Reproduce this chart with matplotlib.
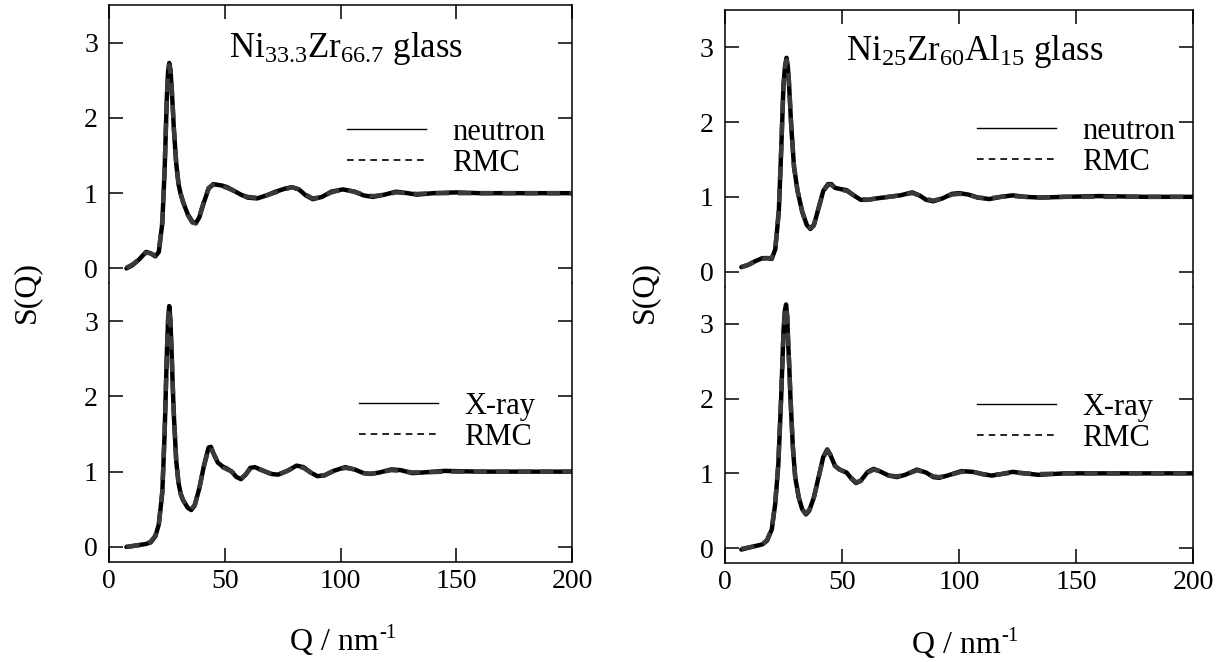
import matplotlib
matplotlib.use("Agg")
import matplotlib.pyplot as plt
from matplotlib.lines import Line2D

plt.rcParams["font.family"] = ["Liberation Serif", "DejaVu Serif"]
plt.rcParams["mathtext.fontset"] = "custom"
plt.rcParams["mathtext.rm"] = "Liberation Serif"
plt.rcParams["mathtext.it"] = "Liberation Serif:italic"

# Ni33.3Zr66.7, neutron
q_a_n = [7.5, 10, 13, 16, 18, 20, 21.5, 23, 24, 24.5, 25, 25.5, 26, 26.5, 27, 27.5, 28, 29, 30, 31,
         32, 34, 36, 37.5, 39, 41, 43, 45, 47, 49, 51, 54, 57, 60, 64, 68, 72, 76, 79, 82,
         85, 88, 92, 96, 101, 106, 110, 114, 119, 124, 129, 133, 140, 150, 160, 170, 180, 190, 200]
s_a_n = [0.0, 0.04, 0.12, 0.22, 0.2, 0.16, 0.22, 0.6, 1.3, 1.8, 2.3, 2.62, 2.73, 2.65, 2.42, 2.15, 1.85, 1.4, 1.12, 0.98,
         0.88, 0.72, 0.62, 0.6, 0.68, 0.88, 1.06, 1.12, 1.11, 1.1, 1.08, 1.03, 0.98, 0.94, 0.93, 0.97, 1.02, 1.06, 1.08, 1.05,
         0.97, 0.92, 0.95, 1.02, 1.05, 1.02, 0.97, 0.95, 0.98, 1.02, 1.0, 0.98, 1.0, 1.01, 1.0, 1.0, 1.0, 1.0, 1.0]
r_a_n = [0.01, 0.05, 0.12, 0.21, 0.2, 0.17, 0.23, 0.62, 1.32, 1.82, 2.28, 2.6, 2.7, 2.63, 2.43, 2.16, 1.86, 1.41, 1.13, 0.99,
         0.88, 0.71, 0.61, 0.6, 0.69, 0.89, 1.07, 1.11, 1.12, 1.09, 1.07, 1.03, 0.98, 0.95, 0.94, 0.97, 1.01, 1.05, 1.08, 1.05,
         0.98, 0.93, 0.95, 1.01, 1.05, 1.02, 0.98, 0.96, 0.98, 1.01, 1.0, 0.99, 1.0, 1.0, 1.0, 1.0, 1.0, 1.0, 1.0]

# Ni33.3Zr66.7, X-ray
q_a_x = [7.5, 12, 16, 18, 20, 21.5, 23, 24, 24.5, 25, 25.5, 26, 26.5, 27, 27.5, 28, 29, 30, 31, 32,
         34, 35.5, 37, 39, 41, 43, 44, 45, 47, 49, 51, 53, 55, 57, 59, 61, 63, 66, 70, 73,
         77, 81, 84, 87, 90, 93, 97, 102, 106, 110, 113, 117, 122, 126, 131, 136, 145, 160, 175, 200]
s_a_x = [0.0, 0.02, 0.04, 0.06, 0.14, 0.3, 0.72, 1.5, 2.05, 2.6, 3.02, 3.2, 3.02, 2.6, 2.15, 1.75, 1.15, 0.85, 0.7, 0.62,
         0.52, 0.49, 0.55, 0.78, 1.08, 1.32, 1.33, 1.25, 1.12, 1.07, 1.04, 1.0, 0.93, 0.9, 0.96, 1.05, 1.06, 1.02, 0.97, 0.96,
         1.01, 1.08, 1.06, 0.99, 0.94, 0.95, 1.01, 1.06, 1.03, 0.98, 0.97, 0.99, 1.03, 1.02, 0.98, 0.99, 1.01, 1.0, 1.0, 1.0]
r_a_x = [0.0, 0.02, 0.04, 0.07, 0.15, 0.31, 0.74, 1.52, 2.06, 2.58, 3.0, 3.17, 3.0, 2.62, 2.16, 1.76, 1.16, 0.85, 0.7, 0.62,
         0.52, 0.5, 0.56, 0.78, 1.07, 1.31, 1.32, 1.25, 1.12, 1.06, 1.03, 1.0, 0.94, 0.91, 0.96, 1.04, 1.05, 1.02, 0.97, 0.96,
         1.01, 1.07, 1.05, 0.99, 0.95, 0.95, 1.01, 1.05, 1.03, 0.98, 0.97, 0.99, 1.02, 1.01, 0.99, 0.99, 1.0, 1.0, 1.0, 1.0]

# Ni25Zr60Al15, neutron
q_b_n = [7.0, 10, 13, 16, 18, 20, 21.5, 23, 24, 24.5, 25, 25.7, 26.3, 26.8, 27.3, 27.8, 28.3, 29.5, 31, 33,
         35, 36.5, 38, 40, 42, 44, 45.5, 47, 50, 52, 55, 58, 61, 65, 70, 75, 80, 83, 86, 89,
         93, 97, 100, 104, 108, 113, 118, 123, 128, 135, 145, 160, 180, 200]
s_b_n = [0.06, 0.09, 0.14, 0.18, 0.18, 0.17, 0.3, 0.8, 1.6, 2.05, 2.5, 2.76, 2.86, 2.76, 2.55, 2.25, 1.95, 1.4, 1.08, 0.8,
         0.62, 0.57, 0.62, 0.85, 1.08, 1.17, 1.17, 1.12, 1.1, 1.09, 1.02, 0.96, 0.96, 0.98, 1.0, 1.02, 1.06, 1.02, 0.96, 0.94,
         0.98, 1.04, 1.05, 1.03, 0.99, 0.97, 1.0, 1.02, 1.0, 0.99, 1.0, 1.01, 1.0, 1.0]
r_b_n = [0.06, 0.09, 0.14, 0.17, 0.18, 0.18, 0.31, 0.82, 1.62, 2.06, 2.48, 2.74, 2.83, 2.75, 2.56, 2.26, 1.96, 1.41, 1.08, 0.8,
         0.62, 0.58, 0.63, 0.85, 1.07, 1.16, 1.16, 1.12, 1.09, 1.08, 1.02, 0.97, 0.96, 0.98, 1.0, 1.02, 1.05, 1.02, 0.97, 0.95,
         0.98, 1.03, 1.04, 1.03, 0.99, 0.98, 1.0, 1.01, 1.0, 0.99, 1.0, 1.0, 1.0, 1.0]

# Ni25Zr60Al15, X-ray
q_b_x = [7.0, 12, 16, 18, 20, 21.5, 22.8, 24, 24.5, 25, 25.6, 26.1, 26.6, 27, 27.5, 28, 29, 30, 31.5, 33,
         34.6, 36, 38, 40, 42, 43.7, 45, 47, 49, 52, 54, 56, 58, 61, 63.5, 66, 70, 73.5, 77, 82,
         86, 89, 91.5, 95, 101, 106, 110, 114, 118, 123, 128, 134, 145, 160, 200]
s_b_x = [-0.02, 0.02, 0.05, 0.1, 0.25, 0.6, 1.12, 2.0, 2.45, 2.9, 3.18, 3.26, 3.1, 2.75, 2.4, 2.0, 1.35, 0.95, 0.68, 0.52,
         0.45, 0.5, 0.68, 0.95, 1.22, 1.32, 1.25, 1.1, 1.05, 1.01, 0.93, 0.87, 0.9, 1.02, 1.06, 1.03, 0.97, 0.95, 0.98, 1.05,
         1.01, 0.95, 0.94, 0.97, 1.03, 1.02, 0.99, 0.97, 0.99, 1.02, 1.0, 0.98, 1.0, 1.0, 1.0]
r_b_x = [-0.01, 0.02, 0.05, 0.11, 0.26, 0.62, 1.14, 2.02, 2.46, 2.88, 3.16, 3.23, 3.09, 2.76, 2.41, 2.01, 1.36, 0.96, 0.68, 0.52,
         0.46, 0.51, 0.68, 0.94, 1.21, 1.31, 1.25, 1.1, 1.05, 1.01, 0.94, 0.88, 0.9, 1.01, 1.05, 1.03, 0.97, 0.96, 0.98, 1.04,
         1.01, 0.96, 0.95, 0.97, 1.02, 1.02, 0.99, 0.98, 0.99, 1.01, 1.0, 0.99, 1.0, 1.0, 1.0]

titles = [r"$\mathrm{Ni_{33.3}Zr_{66.7}}$ glass", r"$\mathrm{Ni_{25}Zr_{60}Al_{15}}$ glass"]


def style_axis(ax, top):
    ax.set_xlim(0, 200)
    ax.set_ylim(-0.2, 3.5)
    ax.set_yticks([0, 1, 2, 3])
    ax.set_xticks([0, 50, 100, 150, 200])
    for sp in ax.spines.values():
        sp.set_linewidth(1.1)
    if top:
        ax.spines["bottom"].set_visible(False)
        ax.tick_params(axis="x", which="both", bottom=False, top=True, labelbottom=False,
                       direction="in", length=10, width=1.1)
    else:
        ax.spines["top"].set_visible(False)
        ax.tick_params(axis="x", which="both", bottom=True, top=False, labelbottom=True,
                       direction="in", length=10, width=1.1, labelsize=20, pad=5)
    ax.tick_params(axis="y", left=True, right=True, direction="in", length=10, width=1.1,
                   labelsize=20, pad=8)


def draw_panel(ax, q, s, r):
    ax.plot(q, s, color="black", lw=3.2, solid_joinstyle="round", solid_capstyle="round")
    ax.plot(q, r, color="#3a3a3a", lw=3.2, dashes=(3, 2), dash_joinstyle="round")


def add_legend(ax, name, x, y):
    handles = [Line2D([], [], color="black", lw=1.0),
               Line2D([], [], color="black", lw=1.2, dashes=(4, 3))]
    ax.legend(handles, [name, "RMC"], loc="upper left", bbox_to_anchor=(x, y),
              frameon=False, fontsize=22, handlelength=2.6, handletextpad=0.85,
              labelspacing=0.05, borderpad=0, borderaxespad=0)


def add_xlabel(fig, x_px, base_px):
    # "Q / nm" plus a small "-1" superscript (hyphen, as in the original)
    W, H = fig.bbox.width, fig.bbox.height
    t = fig.text(x_px / W, 1 - base_px / H, "Q / nm", ha="left", va="baseline", fontsize=23)
    fig.canvas.draw()
    bb = t.get_window_extent()
    fig.text((bb.x1 + 1) / W, 1 - (base_px - 12) / H, "-1", ha="left", va="baseline", fontsize=15)


fig = plt.figure(figsize=(12.24, 6.62), dpi=100)

# left panel
ax1 = fig.add_axes([0.0891, 0.5718, 0.3782, 0.4206])
ax2 = fig.add_axes([0.0891, 0.1511, 0.3782, 0.4207])
# right panel
ax3 = fig.add_axes([0.5923, 0.5672, 0.3824, 0.4177])
ax4 = fig.add_axes([0.5923, 0.1495, 0.3824, 0.4177])

draw_panel(ax1, q_a_n, s_a_n, r_a_n)
draw_panel(ax2, q_a_x, s_a_x, r_a_x)
draw_panel(ax3, q_b_n, s_b_n, r_b_n)
draw_panel(ax4, q_b_x, s_b_x, r_b_x)

for ax, top in [(ax1, True), (ax2, False), (ax3, True), (ax4, False)]:
    style_axis(ax, top)

add_legend(ax1, "neutron", 0.514, 0.594)
add_legend(ax2, "X-ray", 0.54, 0.61)
add_legend(ax3, "neutron", 0.538, 0.613)
add_legend(ax4, "X-ray", 0.538, 0.615)

ax1.text(0.512, 0.813, titles[0], transform=ax1.transAxes, ha="center", va="baseline", fontsize=25)
ax3.text(0.534, 0.82, titles[1], transform=ax3.transAxes, ha="center", va="baseline", fontsize=25)

fig.text(27 / 1224, 1 - 292 / 662, "S(Q)", rotation=90, ha="center", va="center", fontsize=23)
fig.text(645 / 1224, 1 - 292 / 662, "S(Q)", rotation=90, ha="center", va="center", fontsize=23)
add_xlabel(fig, 290, 650)
add_xlabel(fig, 912, 653)

fig.savefig("out.png", dpi=100)
